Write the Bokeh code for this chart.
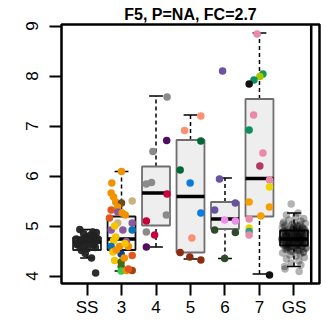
import numpy as np
from bokeh.plotting import figure
from bokeh.models import FixedTicker, Span
from bokeh.embed import file_html
from bokeh.resources import INLINE

# ---------------- data ----------------
categories = ["SS", "3", "4", "5", "6", "7", "GS"]
title_text = "F5, P=NA, FC=2.7"
y_ticks = [4, 5, 6, 7, 8, 9]

# box statistics
box_q1 = [4.52, 4.52, 5.01, 4.47, 4.94, 5.19, 4.61]
box_med = [4.68, 4.74, 5.66, 5.59, 5.14, 5.95, 4.74]
box_q3 = [4.77, 5.19, 6.19, 6.72, 5.48, 7.54, 4.91]
box_wlo = [4.36, 4.10, 4.58, 4.34, 4.35, 4.04, 4.19]
box_whi = [4.93, 6.09, 7.60, 7.22, 5.96, 8.86, 5.26]

ss_vals = [4.93, 4.88, 4.87, 4.74, 4.64, 4.68, 4.71, 4.71, 4.58, 4.51, 4.36, 4.06,
           4.78, 4.82, 4.75, 4.62, 4.66, 4.60, 4.72, 4.80, 4.69, 4.55, 4.63, 4.85,
           4.76, 4.57, 4.45]
c3_vals = [6.09, 5.86, 5.66, 5.58, 5.48, 5.46, 5.50, 5.38, 5.32, 5.28, 5.26, 5.22,
           5.06, 5.06, 4.92, 4.92, 4.92, 4.78, 4.71, 4.69, 4.59, 4.59, 4.59, 4.48,
           4.44, 4.41, 4.31, 4.28, 4.19, 4.10, 4.11, 4.11, 5.16, 5.00, 4.65, 4.52,
           4.36, 4.14]
c4_vals = [7.58, 6.71, 6.49, 5.84, 5.87, 5.64, 5.22, 5.10, 4.88, 4.82, 4.58]
c5_vals = [7.20, 6.91, 6.70, 6.12, 5.86, 5.26, 4.76, 4.47, 4.38, 4.32]
c6_vals = [8.10, 5.94, 5.46, 5.32, 5.12, 5.10, 4.92, 4.87, 4.35]
c7_vals = [8.84, 8.04, 7.99, 7.92, 7.84, 7.22, 6.92, 6.46, 6.20, 5.92, 5.78, 5.48,
           5.38, 5.20, 5.14, 4.96, 4.89, 4.82, 4.02]
gs_vals = [5.44, 5.26, 5.22, 5.18, 5.15, 5.12, 5.10, 5.08, 5.06, 5.05,
           5.03, 5.02, 5.00, 4.99, 4.98, 4.97, 4.96, 4.95, 4.94, 4.93,
           4.92, 4.91, 4.90, 4.90, 4.89, 4.88, 4.87, 4.87, 4.86, 4.85,
           4.84, 4.84, 4.83, 4.82, 4.81, 4.81, 4.80, 4.79, 4.78, 4.78,
           4.77, 4.76, 4.76, 4.75, 4.74, 4.74, 4.73, 4.72, 4.72, 4.71,
           4.70, 4.70, 4.69, 4.68, 4.68, 4.67, 4.66, 4.65, 4.64, 4.63,
           4.62, 4.61, 4.60, 4.59, 4.58, 4.57, 4.56, 4.55, 4.54, 4.52,
           4.50, 4.48, 4.46, 4.44, 4.42, 4.40, 4.37, 4.34, 4.30, 4.26,
           4.22, 4.19, 4.14, 4.09, 4.95, 4.93, 4.91, 4.89, 4.88, 4.86,
           4.85, 4.83, 4.82, 4.80, 4.79, 4.77, 4.76, 4.75, 4.73, 4.72,
           4.71, 4.70, 4.69, 4.67, 4.66, 4.65, 4.64, 4.62, 4.61, 4.60,
           4.58, 4.57, 4.55, 4.53, 4.51, 4.49, 4.47, 5.04, 5.01, 4.98]

# ---------------- jitter (horizontal offsets) ----------------
ss_jit = [-0.21, 0.17, 0.27, -0.31, -0.26, -0.12, 0.08, 0.22, -0.07, -0.16, 0.13, 0.25,
          -0.02, 0.10, 0.30, 0.18, 0.05, -0.22, -0.18, 0.20, 0.26, 0.02, -0.30, -0.10,
          0.12, 0.24, -0.05]
c3_jit = [0.00, -0.28, -0.30, -0.23, -0.17, 0.00, 0.31, -0.11, -0.30, -0.11, 0.02, 0.11,
          -0.11, 0.31, -0.30, 0.04, 0.31, -0.17, -0.23, 0.14, -0.30, -0.06, 0.20, -0.25,
          -0.01, 0.31, -0.20, -0.01, -0.01, -0.01, 0.14, 0.31, -0.35, -0.20, 0.10, -0.15,
          0.08, 0.20]
c4_jit = [0.32, 0.31, -0.09, -0.28, -0.13, 0.32, 0.30, -0.28, -0.28, -0.04, -0.28]
c5_jit = [0.30, -0.17, 0.30, -0.30, -0.01, 0.30, 0.04, -0.30, -0.02, 0.30]
c6_jit = [-0.07, -0.16, 0.30, -0.30, -0.01, 0.30, -0.30, 0.30, -0.01]
c7_jit = [-0.07, 0.10, 0.01, -0.16, -0.30, -0.17, -0.30, 0.10, 0.01, 0.29, 0.29, -0.30,
          0.29, 0.04, -0.30, -0.30, -0.30, -0.30, 0.29]
gs_jit = [-0.08, 0.12, -0.22, 0.05, 0.28, -0.15, 0.20, -0.30, 0.02, 0.33,
          -0.05, 0.18, -0.26, 0.09, -0.12, 0.25, -0.34, 0.14, -0.02, 0.30,
          -0.19, 0.07, 0.22, -0.28, 0.11, -0.09, 0.34, -0.17, 0.03, -0.24,
          0.16, -0.32, 0.26, -0.06, 0.10, -0.21, 0.31, -0.13, 0.06, -0.27,
          0.19, -0.01, 0.24, -0.35, 0.13, -0.10, 0.29, -0.18, 0.01, 0.21,
          -0.29, 0.08, -0.14, 0.32, -0.04, 0.17, -0.23, 0.27, -0.11, 0.04,
          -0.31, 0.15, -0.07, 0.23, -0.20, 0.35, -0.16, 0.09, -0.25, 0.12,
          -0.03, 0.28, -0.33, 0.18, -0.12, 0.06, 0.30, -0.22, 0.14, -0.08,
          0.20, -0.27, -0.26, 0.15, 0.25, -0.02, 0.33, -0.30, 0.10, -0.14,
          0.22, -0.06, 0.16, -0.24, 0.02, 0.29, -0.20, 0.07, -0.35, 0.19,
          -0.10, 0.26, -0.28, 0.12, -0.04, 0.31, -0.16, 0.08, -0.26, 0.24,
          -0.13, 0.03, 0.34, -0.21, 0.15, -0.09, 0.27, -0.32, 0.11, -0.01]

# ---------------- styles ----------------
OR, ORR, BRN, TAN, PUR, BLU = "#f39200", "#e5561e", "#6b4a1e", "#c9b27c", "#8c5a9c", "#0a72b4"
YEL, NAV, OLV, GRN, RST = "#f5c400", "#0b3d91", "#4c6a12", "#2ed04c", "#a3420c"
c3_cols = [OR, OR, OR, OR, OR, BRN, TAN, OR, ORR, PUR, OR, OR,
           TAN, PUR, PUR, PUR, BLU, YEL, YEL, PUR, BLU, OR, OR, YEL,
           NAV, ORR, YEL, OLV, OLV, GRN, OR, RST, ORR, YEL, YEL, OR,
           OR, ORR]
GRY, DPU, CRM = "#8a8a8a", "#4d0f5e", "#c8003c"
c4_cols = [GRY, DPU, GRY, GRY, GRY, CRM, GRY, CRM, GRY, CRM, DPU]
SAL, DGR, BL2, BR2 = "#fb9072", "#006837", "#0a7ce0", "#8c2d0f"
c5_cols = [SAL, SAL, DGR, DGR, BL2, BL2, SAL, BR2, BR2, BR2]
PU6, VIO, DG6 = "#6a51a3", "#f08cf0", "#2e4a2b"
c6_cols = [PU6, PU6, PU6, PU6, VIO, VIO, DG6, DG6, DG6]
PNK, G7, YG, TG, BLK, MAR, Y7, O7, TL = ("#e98aa9", "#1a9850", "#a6c800", "#0b8f5c", "#111111",
                                         "#b23a62", "#e8d800", "#f5a000", "#2a9d8f")
c7_cols = [PNK, G7, YG, TG, BLK, PNK, TG, PNK, MAR, PNK, Y7, O7,
           O7, O7, PNK, Y7, TL, PNK, BLK]

box_fill = ["#f2f2f2", "#f6f6f6", "#eeeeee", "#eeeeee", "#eeeeee", "#eeeeee", "#f2f2f2"]
box_line = ["#222222", "#111111", "#6e6e6e", "#6e6e6e", "#6e6e6e", "#6e6e6e", "#111111"]

# ---------------- figure ----------------
FONT = "Liberation Sans"
p = figure(width=322, height=320, x_range=(0.26, 7.74), y_range=(3.85, 9.03),
           output_backend="svg", toolbar_location=None,
           min_border_left=61, min_border_right=3, min_border_top=24, min_border_bottom=37)
p.background_fill_color = "white"
p.border_fill_color = "white"
p.xgrid.visible = False
p.ygrid.visible = False
p.outline_line_color = "black"
p.outline_line_width = 2.5

p.title.text = title_text
p.title.align = "center"
p.title.text_font = FONT
p.title.text_font_size = "16px"
p.title.text_font_style = "bold"
p.title.text_color = "black"
p.title.standoff = 4

idx = np.arange(1, len(categories) + 1)
half = 0.405
cap = 0.2

# whiskers (dashed) and caps
p.segment(x0=idx, y0=box_q3, x1=idx, y1=box_whi, line_color="black", line_width=1.5, line_dash="4 3")
p.segment(x0=idx, y0=box_wlo, x1=idx, y1=box_q1, line_color="black", line_width=1.5, line_dash="4 3")
p.segment(x0=idx - cap, y0=box_whi, x1=idx + cap, y1=box_whi, line_color="black", line_width=1.5)
p.segment(x0=idx - cap, y0=box_wlo, x1=idx + cap, y1=box_wlo, line_color="black", line_width=1.5)
# boxes
p.quad(left=idx - half, right=idx + half, bottom=box_q1, top=box_q3,
       fill_color=box_fill, line_color=box_line, line_width=1.8)
p.segment(x0=idx - half, y0=box_med, x1=idx + half, y1=box_med, line_color="black", line_width=3.5)

# points
p.scatter(x=1 + np.array(ss_jit), y=ss_vals, size=7.5, fill_color="#222222", line_color=None, fill_alpha=0.95)
p.scatter(x=2 + np.array(c3_jit), y=c3_vals, size=7.5, fill_color=c3_cols, line_color=None)
p.scatter(x=3 + np.array(c4_jit), y=c4_vals, size=7.5, fill_color=c4_cols, line_color=None)
p.scatter(x=4 + np.array(c5_jit), y=c5_vals, size=7.5, fill_color=c5_cols, line_color=None)
p.scatter(x=5 + np.array(c6_jit), y=c6_vals, size=7.5, fill_color=c6_cols, line_color=None)
p.scatter(x=6 + np.array(c7_jit), y=c7_vals, size=7.5, fill_color=c7_cols, line_color=None)
p.scatter(x=7 + np.array(gs_jit), y=gs_vals, size=7.5, fill_color="black", line_color=None, fill_alpha=0.3)

# separator
p.add_layout(Span(location=7.5, dimension="height", line_color="black", line_width=2.5))

# axes
p.yaxis.ticker = FixedTicker(ticks=y_ticks)
p.yaxis.minor_tick_line_color = None
p.yaxis.major_tick_in = 0
p.yaxis.major_tick_out = 12
p.yaxis.major_tick_line_width = 2
p.yaxis.axis_line_color = None
p.yaxis.major_label_orientation = "vertical"
p.yaxis.major_label_text_font = FONT
p.yaxis.major_label_text_font_size = "17px"
p.yaxis.major_label_text_color = "black"
p.yaxis.major_label_standoff = 12

p.xaxis.ticker = FixedTicker(ticks=list(idx))
p.xaxis.major_label_overrides = {int(i): c for i, c in zip(idx, categories)}
p.xaxis.minor_tick_line_color = None
p.xaxis.major_tick_in = 0
p.xaxis.major_tick_out = 12
p.xaxis.major_tick_line_width = 2
p.xaxis.axis_line_color = None
p.xaxis.major_label_text_font = FONT
p.xaxis.major_label_text_font_size = "17px"
p.xaxis.major_label_text_color = "black"
p.xaxis.major_label_standoff = 2

open("out.html", "w").write(file_html(p, INLINE))
